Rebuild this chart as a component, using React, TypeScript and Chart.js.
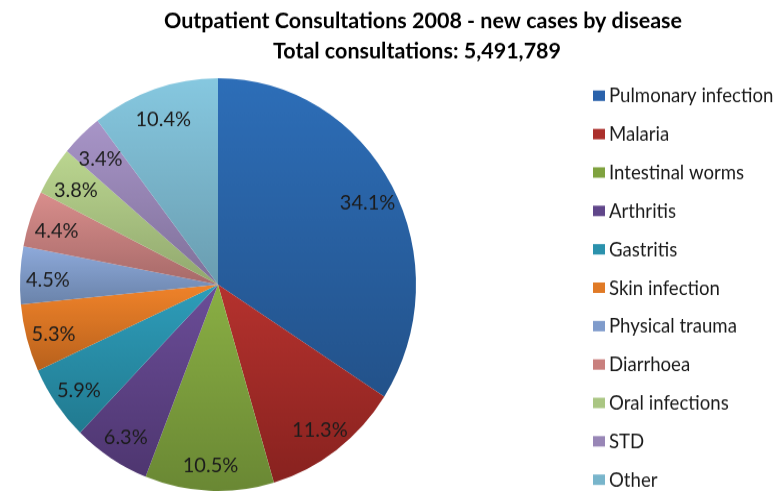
import React, { useEffect, useRef } from "react";
import { Chart, registerables } from "chart.js";

Chart.register(...registerables);

// ---- data ----
const categories = [
  "Pulmonary infection",
  "Malaria",
  "Intestinal worms",
  "Arthritis",
  "Gastritis",
  "Skin infection",
  "Physical trauma",
  "Diarrhoea",
  "Oral infections",
  "STD",
  "Other",
];
const shares = [34.1, 11.3, 10.5, 6.3, 5.9, 5.3, 4.5, 4.4, 3.8, 3.4, 10.4];
const titleLines = [
  "Outpatient Consultations 2008 - new cases by disease",
  "Total consultations: 5,491,789",
];

// ---- styles ----
const topColors = [
  "#2d6eb8", "#b5322e", "#8aaf44", "#6b4d98", "#2e9dba", "#f0832a",
  "#8eaadb", "#d98e8c", "#bbd690", "#a895c8", "#86c8e0",
];
const bottomColors = [
  "#23528a", "#88221f", "#6a8834", "#4e3670", "#217a90", "#b8611c",
  "#6a83aa", "#a76a69", "#91a86e", "#7f7099", "#6a9db0",
];
const legendColors = [
  "#2a62ab", "#ab2f2b", "#7fa23f", "#60468a", "#2a91ac", "#e07a26",
  "#7f9bcb", "#c9807e", "#aac683", "#9886b6", "#78b5cb",
];

const W = 774;
const H_DISPLAY = 492;
const STRETCH = 1.0424;
const H = Math.round(H_DISPLAY / STRETCH);

function sliceGradient(ctx: any) {
  const chart = ctx.chart;
  const area = chart.chartArea;
  const i = ctx.dataIndex;
  if (!area || ctx.type !== "data") return topColors[i];
  const vals = ctx.dataset.data as number[];
  const total = vals.reduce((a, b) => a + b, 0);
  let before = 0;
  for (let j = 0; j < i; j++) before += vals[j];
  const a0 = (before / total) * Math.PI * 2;
  const a1 = ((before + vals[i]) / total) * Math.PI * 2;
  const cy = (area.top + area.bottom) / 2;
  const r = Math.min(area.width, area.height) / 2;
  const ys = [cy, cy - r * Math.cos(a0), cy - r * Math.cos(a1)];
  if (a0 <= 1e-6) ys.push(cy - r);
  if (a0 <= Math.PI && a1 >= Math.PI) ys.push(cy + r);
  const y0 = Math.min(...ys);
  const y1 = Math.max(...ys);
  const g = chart.ctx.createLinearGradient(0, y0, 0, Math.max(y1, y0 + 1));
  g.addColorStop(0, topColors[i]);
  g.addColorStop(1, bottomColors[i]);
  return g;
}

const decorPlugin = {
  id: "decor",
  afterDatasetsDraw(chart: any) {
    const c = chart.ctx as CanvasRenderingContext2D;
    const meta = chart.getDatasetMeta(0);
    const data = chart.data.datasets[0].data as number[];
    c.save();
    // percentage labels
    c.font = "20px Lato";
    c.fillStyle = "#1c1c1c";
    c.textAlign = "center";
    c.textBaseline = "middle";
    meta.data.forEach((arc: any, i: number) => {
      const p = arc.getProps(["x", "y", "startAngle", "endAngle", "outerRadius"], true);
      const mid = (p.startAngle + p.endAngle) / 2;
      const rr = p.outerRadius * 0.86;
      c.fillText(`${data[i].toFixed(1)}%`, p.x + Math.cos(mid) * rr, p.y + Math.sin(mid) * rr + 3);
    });
    // title
    c.fillStyle = "#000000";
    c.font = "bold 21.5px Lato";
    c.textBaseline = "alphabetic";
    c.textAlign = "center";
    c.fillText(titleLines[0], 423, 27.2);
    c.fillText(titleLines[1], 417, 55.9);
    // legend
    const labels = chart.data.labels as string[];
    c.font = "18.6px Lato";
    c.textAlign = "left";
    c.textBaseline = "middle";
    labels.forEach((lab, i) => {
      const cyRow = 91.8 + i * 36.84;
      c.fillStyle = legendColors[i];
      c.fillRect(593, cyRow - 5, 12, 10);
      c.fillStyle = "#1a1a1a";
      c.fillText(lab, 609, cyRow + 0.5);
    });
    c.restore();
  },
};

export default function App() {
  const ref = useRef<HTMLCanvasElement | null>(null);
  useEffect(() => {
    document.body.style.margin = "0";
    const canvas = ref.current!;
    const chart = new Chart(canvas, {
      type: "pie",
      data: {
        labels: categories,
        datasets: [
          {
            data: shares,
            backgroundColor: sliceGradient as any,
            borderWidth: 0,
          },
        ],
      },
      options: {
        responsive: false,
        animation: false,
        devicePixelRatio: 1,
        layout: { padding: { left: 20, top: 75, right: W - 416, bottom: H - 75 - 396 } },
        plugins: {
          legend: { display: false },
          title: { display: false },
          tooltip: { enabled: false },
        },
      },
      plugins: [decorPlugin],
    });
    return () => chart.destroy();
  }, []);
  return (
    <div style={{ width: W, height: H_DISPLAY, background: "#ffffff", overflow: "hidden" }}>
      <canvas
        ref={ref}
        width={W}
        height={H}
        style={{ width: `${W}px`, height: `${H_DISPLAY}px`, display: "block" }}
      />
    </div>
  );
}
